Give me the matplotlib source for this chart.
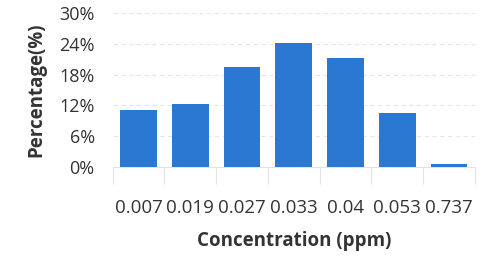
import matplotlib
matplotlib.use("Agg")
import matplotlib.pyplot as plt
import numpy as np

concentrations = ["0.007", "0.019", "0.027", "0.033", "0.04", "0.053", "0.737"]
percentages = [11.1, 12.3, 19.4, 24.1, 21.2, 10.6, 0.6]
y_ticks = [0, 6, 12, 18, 24, 30]

plt.rcParams['font.family'] = ['Open Sans', 'DejaVu Sans']

fig = plt.figure(figsize=(4.82, 2.59), dpi=100)
ax = fig.add_axes([0.234, 0.355, 0.751, 0.595])

x = np.arange(len(concentrations))
ax.bar(x, percentages, width=0.71, color='#2a78d2', zorder=3)

ax.set_xlim(-0.5, len(concentrations) - 0.5)
ax.set_ylim(0, 30)
ax.set_yticks(y_ticks)
ax.set_yticklabels([f"{t}%" for t in y_ticks])
ax.set_xticks(x)
ax.set_xticklabels(concentrations)
ax.set_xticks(np.arange(len(concentrations) + 1) - 0.5, minor=True)

ax.tick_params(axis='y', length=0, pad=13, labelsize=13, labelcolor='#333333')
ax.tick_params(axis='x', which='major', length=0, pad=23, labelsize=13.5,
               labelcolor='#333333')
ax.tick_params(axis='x', which='minor', length=12, width=0.8, color='#e3e3e3')

ax.grid(axis='y', linestyle=(0, (4, 3)), color='#e6e6e6', linewidth=0.8, zorder=0)
for s in ['top', 'right', 'left']:
    ax.spines[s].set_visible(False)
ax.spines['bottom'].set_color('#e3e3e3')
ax.spines['bottom'].set_linewidth(0.8)

ax.set_ylabel("Percentage(%)", fontsize=13.5, fontweight='bold', color='#333333',
              labelpad=9)
ax.set_xlabel("Concentration (ppm)", fontsize=13.5, fontweight='bold',
              color='#333333', labelpad=10)

fig.savefig("out.png", dpi=100)
